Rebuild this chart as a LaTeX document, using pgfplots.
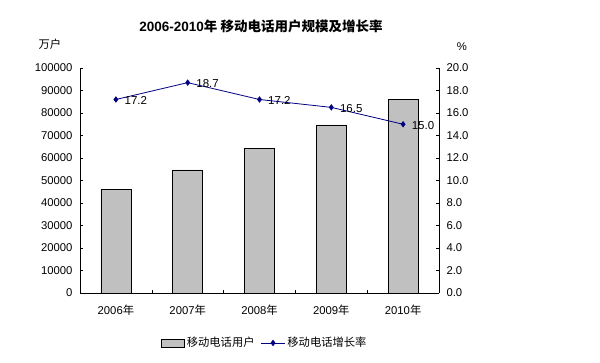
\documentclass[border=0pt]{standalone}
\usepackage{fontspec}
\setmainfont{Liberation Sans}
\newfontfamily\cjk{Noto Sans CJK SC}
\usepackage{pgfplots}
\pgfplotsset{compat=1.18}
\definecolor{bargray}{RGB}{192,192,192}
\definecolor{linenavy}{RGB}{0,0,128}
\begin{document}
\begin{tikzpicture}[x=1bp,y=1bp]
\path[use as bounding box] (-80,-69) rectangle (520,293);
\begin{axis}[
  /pgf/number format/assume math mode=true,
  at={(0,0)}, anchor=south west, scale only axis,
  width=359bp, height=225bp,
  xmin=-0.5, xmax=4.5, ymin=0, ymax=100000,
  axis y line*=left, axis x line*=bottom,
  axis line style={line width=0.8bp, black},
  tick align=inside, major tick length=3bp, minor tick length=3bp,
  tick style={black, line width=0.6bp},
  ytick={0,10000,...,100000}, scaled y ticks=false,
  yticklabel style={/pgf/number format/fixed, /pgf/number format/precision=0, /pgf/number format/set thousands separator={}, xshift=-4bp},
  xtick={0,...,4},
  xticklabels={2006{\cjk 年},2007{\cjk 年},2008{\cjk 年},2009{\cjk 年},2010{\cjk 年}},
  major x tick style={draw=none},
  minor xtick={0.5,1.5,2.5,3.5},
  ticklabel style={font=\fontsize{11.3bp}{13bp}\selectfont},
  xticklabel style={yshift=-8bp},
  clip=false,
]
\addplot[ybar, bar width=30bp, fill=bargray, draw=black, line width=0.6bp]
  coordinates {(0,46105) (1,54731) (2,64125) (3,74721) (4,85900)};
\end{axis}
\begin{axis}[
  /pgf/number format/assume math mode=true,
  at={(0,0)}, anchor=south west, scale only axis,
  width=359bp, height=225bp,
  xmin=-0.5, xmax=4.5, ymin=0, ymax=20,
  axis y line*=right, axis x line=none,
  axis line style={line width=0.8bp, black},
  tick align=inside, major tick length=3bp,
  tick style={black, line width=0.6bp},
  ytick={0,2,...,20},
  yticklabel style={/pgf/number format/fixed, /pgf/number format/fixed zerofill, /pgf/number format/precision=1, xshift=4bp},
  ticklabel style={font=\fontsize{11.3bp}{13bp}\selectfont},
  clip=false,
  legend style={at={(0.515,-0.222)}, anchor=center, draw=none, fill=none,
    legend columns=2, font=\fontsize{11.3bp}{13bp}\selectfont,
    /tikz/every odd column/.append style={column sep=0bp},
    /tikz/every even column/.append style={column sep=4bp},
    legend cell align=left, inner sep=0pt},
]
\addlegendimage{legend image code/.code={\draw[fill=bargray, draw=black, line width=0.6bp] (0bp,-4bp) rectangle (23bp,4bp);}}
\addlegendentry{\cjk 移动电话用户}
\addplot[linenavy, line width=0.8bp, mark=diamond*, mark size=2.6bp,
  mark options={fill=linenavy, draw=linenavy},
  nodes near coords={\pgfmathprintnumber[fixed, fixed zerofill, precision=1]{\pgfplotspointmeta}},
  every node near coord/.append style={anchor=west, xshift=5bp, yshift=-1bp, text=black, font=\fontsize{11.5bp}{13bp}\selectfont},
  legend image code/.code={\draw[mark repeat=2, mark phase=2] plot coordinates {(0bp,0bp) (12bp,0bp) (24bp,0bp)};}]
  coordinates {(0,17.2) (1,18.7) (2,17.2) (3,16.5) (4,15.0)};
\addlegendentry{\cjk 移动电话增长率}
\end{axis}
\node[font=\bfseries\fontsize{13.5bp}{16bp}\selectfont] at (181,267) {2006-2010{\cjk 年 移动电话用户规模及增长率}};
\node[font=\fontsize{11.3bp}{13bp}\selectfont] at (-30,249) {\cjk 万户};
\node[font=\fontsize{11.3bp}{13bp}\selectfont] at (382,246) {\%};
\end{tikzpicture}
\end{document}
